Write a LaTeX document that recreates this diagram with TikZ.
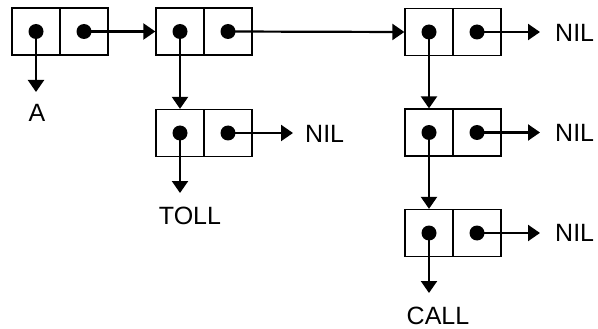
\documentclass[tikz,border=0pt]{standalone}
\usepackage{fontspec}
\setmainfont{Liberation Sans}
\usetikzlibrary{arrows.meta}
\begin{document}
\begin{tikzpicture}[x=1pt,y=-1pt,
  cell/.style={draw, line width=1.3pt, minimum width=48pt, minimum height=47pt, inner sep=0pt},
  dot/.style={circle, fill=black, inner sep=0pt, minimum size=15pt},
  arr/.style={line width=2.2pt, -{Triangle[length=12pt,width=16pt]}},
  lbl/.style={inner sep=0pt, font=\fontsize{25}{30}\selectfont}]
\useasboundingbox (0,0) rectangle (598,329);
% cells
\node[cell] (b1a) at (36,31.5) {};
\node[cell] (b1b) at (84,31.5) {};
\node[cell] (b2a) at (180,31.5) {};
\node[cell] (b2b) at (228,31.5) {};
\node[cell] (b3a) at (429,32) {};
\node[cell] (b3b) at (477,32) {};
\node[cell] (b4a) at (429,132.5) {};
\node[cell] (b4b) at (477,132.5) {};
\node[cell] (b5a) at (180,133) {};
\node[cell] (b5b) at (228,133) {};
\node[cell] (b6a) at (429,233) {};
\node[cell] (b6b) at (477,233) {};
% dots
\foreach \n in {b1a,b1b,b2a,b2b,b3a,b3b,b4a,b4b,b5a,b5b,b6a,b6b}
  \node[dot] (d\n) at (\n) {};
% labels
\node[lbl, anchor=north] (A) at (37,104) {A};
\node[lbl, anchor=north] (toll) at (190,207) {TOLL};
\node[lbl, anchor=north] (call) at (438,307) {CALL};
\node[lbl, anchor=west] (nil3) at (555,33) {NIL};
\node[lbl, anchor=west] (nil4) at (555,133) {NIL};
\node[lbl, anchor=west] (nil5) at (305,134) {NIL};
\node[lbl, anchor=west] (nil6) at (555,233) {NIL};
% connectors
\draw[arr] (db1b.center) -- (b2a.west);
\draw[arr] (db2b.center) -- (b3a.west);
\draw[arr, shorten >=12pt] (db1a.center) -- (db1a.center |- A.north);
\draw[arr] (db2a.center) -- (b5a.north);
\draw[arr, shorten >=14pt] (db5a.center) -- (db5a.center |- toll.north);
\draw[arr] (db3a.center) -- (b4a.north);
\draw[arr] (db4a.center) -- (b6a.north);
\draw[arr, shorten >=14pt] (db6a.center) -- (db6a.center |- call.north);
\draw[arr, shorten >=15pt] (db3b.center) -- (db3b.center -| nil3.west);
\draw[arr, shorten >=15pt] (db4b.center) -- (db4b.center -| nil4.west);
\draw[arr, shorten >=12pt] (db5b.center) -- (db5b.center -| nil5.west);
\draw[arr, shorten >=15pt] (db6b.center) -- (db6b.center -| nil6.west);
\end{tikzpicture}
\end{document}
